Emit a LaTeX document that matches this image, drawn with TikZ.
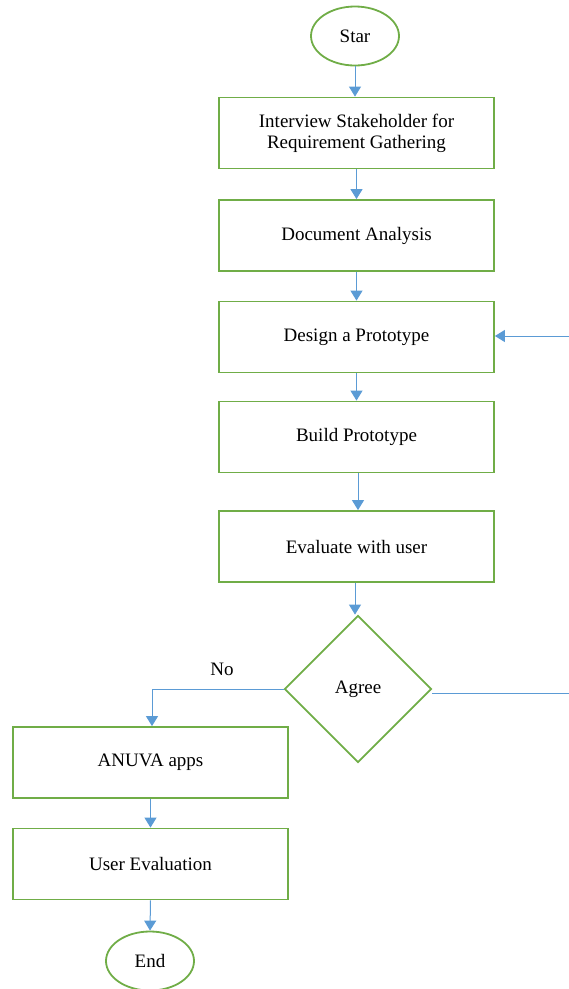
\documentclass[tikz,border=0pt]{standalone}
\usepackage{fontspec}
\setmainfont{Liberation Serif}
\usetikzlibrary{shapes.geometric,arrows.meta}
\begin{document}
\begin{tikzpicture}[x=1pt,y=-1pt,
  font=\fontsize{19}{21}\selectfont,
  box/.style={draw=boxgreen,line width=1.8pt,minimum width=275pt,minimum height=71pt,inner sep=0pt,align=center},
  term/.style={draw=boxgreen,line width=1.8pt,ellipse,minimum width=88pt,minimum height=59pt,inner sep=0pt},
  dec/.style={draw=boxgreen,line width=1.8pt,diamond,minimum width=147pt,minimum height=147pt,inner sep=0pt},
  conn/.style={draw=lineblue,line width=1pt,-{Triangle[width=12pt,length=10pt]}},
  plain/.style={draw=lineblue,line width=1pt}]
\definecolor{boxgreen}{RGB}{112,173,71}
\definecolor{lineblue}{RGB}{91,155,213}
\useasboundingbox (0,0) rectangle (569,989);
\node[term] (start) at (355,36) {Star};
\node[box] (b1) at (356.5,133) {Interview Stakeholder for\\Requirement Gathering};
\node[box] (b2) at (356.5,235.5) {Document Analysis};
\node[box] (b3) at (356.5,337) {Design a Prototype};
\node[box] (b4) at (356.5,437) {Build Prototype};
\node[box] (b5) at (356.5,546.5) {Evaluate with user};
\node[dec] (d) at (358,689) {Agree};
\node[box] (a1) at (150.5,762.5) {ANUVA apps};
\node[box] (a2) at (150.5,864) {User Evaluation};
\node[term] (end) at (150,961) {End};
\node (no) at (222,669) {No};
\coordinate (r1) at (569,693);
\coordinate (r2) at (569,336);
\coordinate (nl) at (152,689);

\draw[conn] (start.south) -- (start.south |- b1.north);
\draw[conn] (b1.south) -- (b2.north);
\draw[conn] (b2.south) -- (b3.north);
\draw[conn] (b3.south) -- (b4.north);
\draw[conn] (b4.south -| 358,0) -- (b5.north -| 358,0);
\draw[conn] (b5.south -| 355,0) -- (d.north -| 355,0);
\draw[conn] (d.west) -- (nl) -- (nl |- a1.north);
\draw[plain] (d.east |- r1) -- (r1);
\draw[conn] (r2) -- (b3.east |- r2);
\draw[conn] (a1.south) -- (a2.north);
\draw[conn] (a2.south) -- (end.north);
\end{tikzpicture}
\end{document}
